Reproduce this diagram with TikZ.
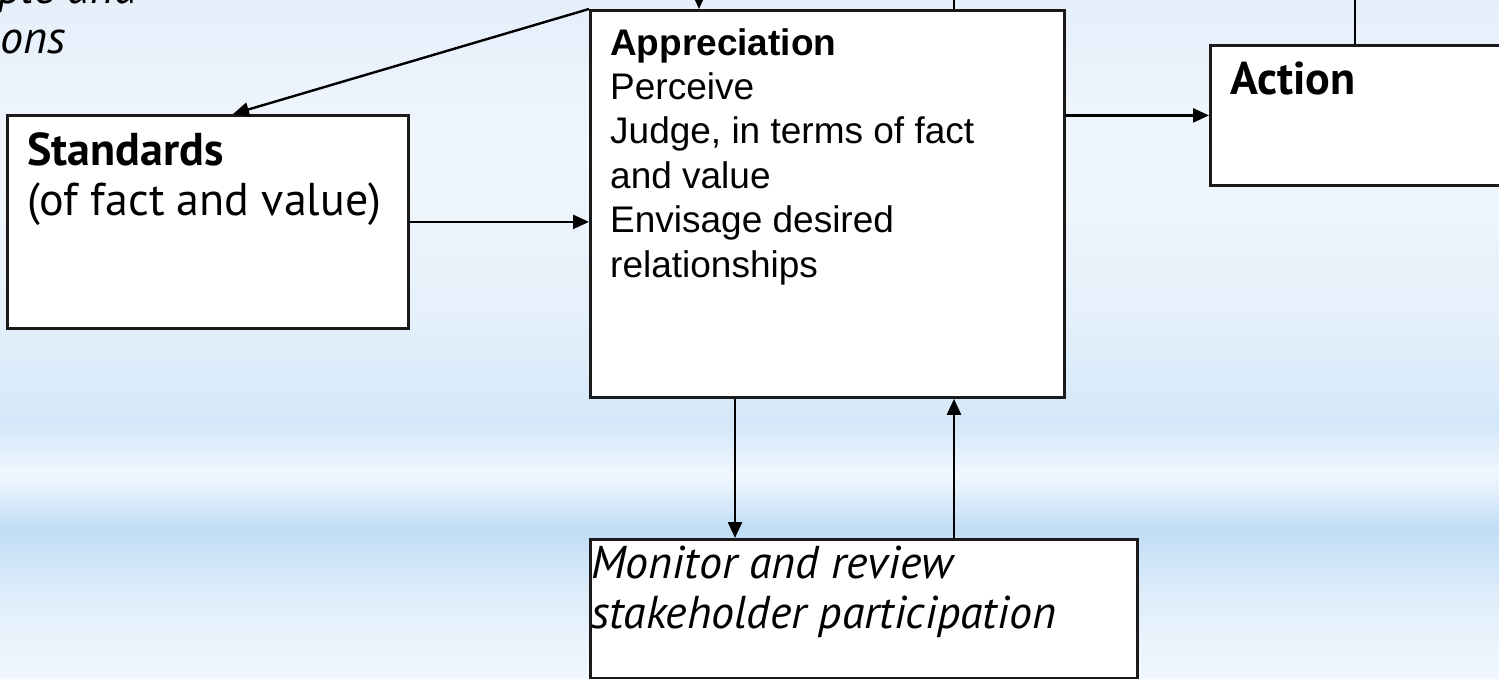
\documentclass[tikz,border=0pt]{standalone}
\usepackage{fontspec}
\newfontfamily\arialf{Liberation Sans}
\newfontfamily\humf{PT Sans}
\usetikzlibrary{arrows.meta,fadings}
\definecolor{bgA}{HTML}{E5EFFA}
\definecolor{bgB}{HTML}{F0F6FD}
\definecolor{bgC}{HTML}{E7F1FB}
\definecolor{bgD}{HTML}{D3E8F9}
\definecolor{bgE}{HTML}{F1F7FE}
\definecolor{bgF}{HTML}{C0DDF6}
\definecolor{bgG}{HTML}{E0EEFA}
\definecolor{bgH}{HTML}{F2F8FE}
\definecolor{boxline}{HTML}{1A1A1A}
\tikzfading[name=hfade, left color=transparent!100, middle color=transparent!35, right color=transparent!100]
\begin{document}
\begin{tikzpicture}[x=1pt,y=-1pt,
  box/.style={draw=boxline, line width=2.8pt, fill=white, inner sep=0pt, anchor=north west},
  conn/.style={line width=2.4pt, black},
  arr/.style={conn, -{Triangle[length=16pt,width=14pt]}},
  apptext/.style={font=\arialf\fontsize{37}{44.4}\selectfont, align=left, anchor=base west, inner sep=0pt},
  humtext/.style={font=\humf\fontsize{46}{50}\selectfont, align=left, anchor=base west, inner sep=0pt},
  humital/.style={font=\humf\itshape\fontsize{46}{50}\selectfont, align=left, anchor=base west, inner sep=0pt},
]
\useasboundingbox (0,0) rectangle (1499,678);
\begin{scope}
\clip (0,0) rectangle (1499,678);
% background bands
\foreach \ya/\yb/\ca/\cb in {-1/150/bgA/bgB, 150/300/bgB/bgC, 300/425/bgC/bgD, 425/475/bgD/bgE, 475/527/bgE/bgF, 527/600/bgF/bgG, 600/679/bgG/bgH}
  \shade[top color=\ca, bottom color=\cb] (-1,\ya) rectangle (1500,\yb+0.6);
\fill[white, path fading=hfade] (-1,-1) rectangle (1500,679);

% boxes
\node[box, minimum width=401pt, minimum height=213pt] (std) at (6,114) {};
\node[box, minimum width=474pt, minimum height=387pt] (app) at (589,9) {};
\node[box, minimum width=330pt, minimum height=140pt] (act) at (1209,44) {};
\node[box, minimum width=547pt, minimum height=139pt] (mon) at (589,538) {};

% texts (base anchor = baseline of the last line)
\node[humital, anchor=base east] (tla) at (138,3) {ple and};
\node[humital] (tlb) at (0,53) {ons};
\node[humtext] (stdtxt) at (27,215) {\textbf{Standards}\\(of fact and value)};
\node[apptext] (apptxt) at (610,277) {\textbf{Appreciation}\\Perceive\\Judge, in terms of fact\\and value\\Envisage desired\\relationships};
\node[humtext] (acttxt) at (1230,94) {\textbf{Action}};
\node[humital] (montxt) at (591,628) {Monitor and review\\stakeholder participation};

% helper coordinates
\coordinate (topin) at (699,-5);
\coordinate (topout) at (954,-5);
\coordinate (actup) at (1355,-5);
\coordinate (dgx) at (233,0);
\coordinate (dnx) at (735,0);
\coordinate (upx) at (954,0);

% connectors
\draw[arr] (topin) -- (app.north -| topin);
\draw[conn] (app.north -| topout) -- (topout);
\draw[conn] (act.north -| actup) -- (actup);
\draw[arr] (app.north west) -- (std.north -| dgx);
\draw[arr] (std.east) -- (app.west |- std.east);
\draw[arr] (app.east |- act.west) -- (act.west);
\draw[arr] (app.south -| dnx) -- (mon.north -| dnx);
\draw[arr] (mon.north -| upx) -- (app.south -| upx);
\end{scope}
\end{tikzpicture}
\end{document}
